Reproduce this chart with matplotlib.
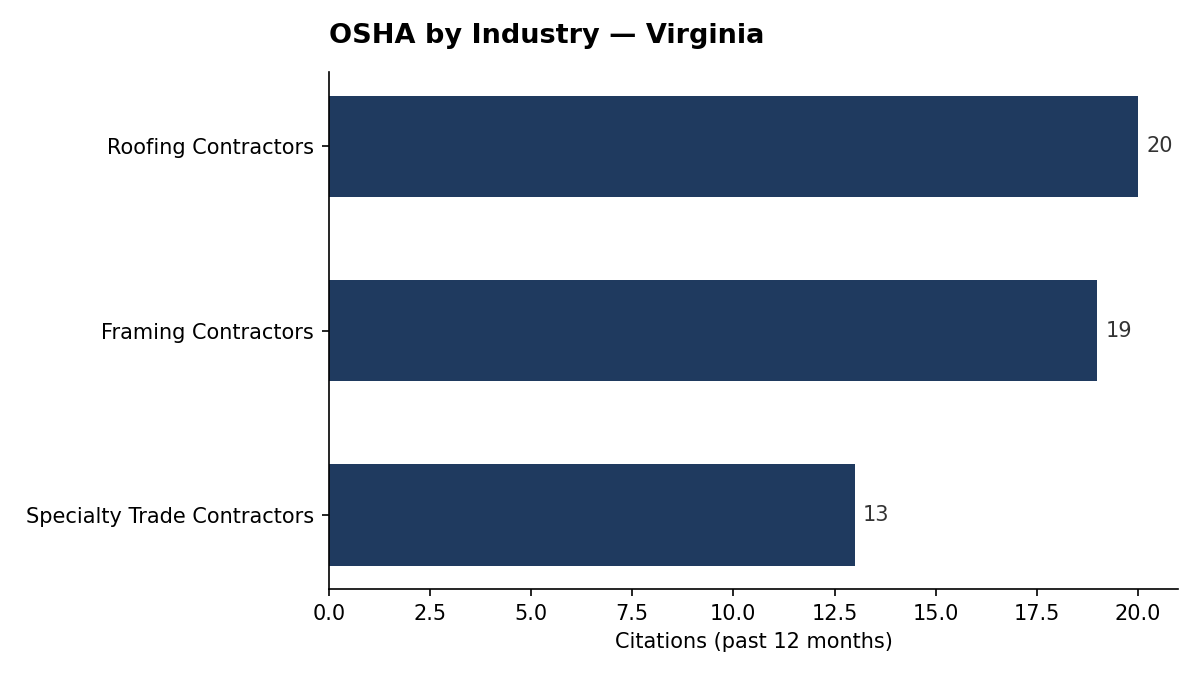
import matplotlib
matplotlib.use("Agg")
import matplotlib.pyplot as plt

# Data
industries = ["Specialty Trade Contractors", "Framing Contractors", "Roofing Contractors"]
citations = [13, 19, 20]

fig, ax = plt.subplots(figsize=(8, 4.5), dpi=150)

bars = ax.barh(industries, citations, height=0.55, color="#1f3a5f")

# value labels at the bar ends
for b, v in zip(bars, citations):
    ax.text(b.get_width() + 0.2, b.get_y() + b.get_height() / 2, str(v),
            va="center", ha="left", fontsize=10, color="#333333")

ax.set_title("OSHA by Industry \u2014 Virginia", loc="left", fontsize=13,
             fontweight="bold", pad=14)
ax.set_xlabel("Citations (past 12 months)", fontsize=10)
ax.tick_params(axis="both", labelsize=10)

ax.spines["top"].set_visible(False)
ax.spines["right"].set_visible(False)

plt.subplots_adjust(left=0.274, right=0.982, top=0.893, bottom=0.127)
plt.savefig("out.png", dpi=150)
